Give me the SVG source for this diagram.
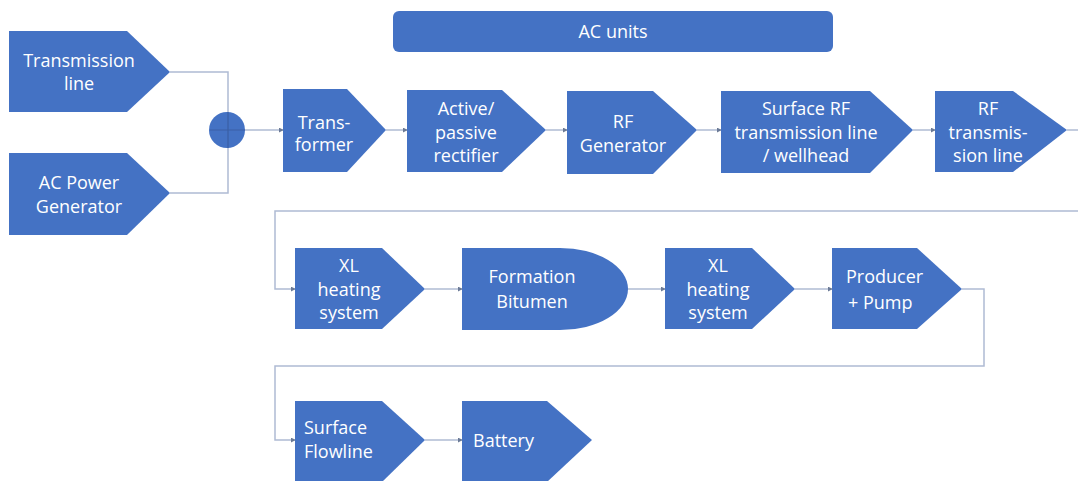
<svg xmlns="http://www.w3.org/2000/svg" width="1078" height="481" viewBox="0 0 1078 481">
<defs>
<style>
.n{fill:#4472C4;}
.t{fill:#fff;font-family:"Open Sans","Noto Sans",sans-serif;font-size:18px;text-anchor:middle;}
.l{text-anchor:start;}
.c{fill:none;stroke:#AFBBD3;stroke-width:1.5;}
</style>
<marker id="a" viewBox="0 0 6 6" refX="5" refY="3" markerWidth="5" markerHeight="5" orient="auto" markerUnits="userSpaceOnUse">
<path d="M0,0 L6,3 L0,6 z" fill="#6B7A96"/>
</marker>
</defs>
<rect width="1078" height="481" fill="#fff"/>
<g id="connectors">
<path class="c" d="M170,72 H228 V193 H170"/>
<path class="c" d="M210,130 H283" marker-end="url(#a)"/>
<path class="c" d="M386,130 H407" marker-end="url(#a)"/>
<path class="c" d="M546,130 H567" marker-end="url(#a)"/>
<path class="c" d="M697,130 H721" marker-end="url(#a)"/>
<path class="c" d="M913,130 H935" marker-end="url(#a)"/>
<path class="c" d="M1067,130 H1078"/>
<path class="c" d="M1078,211 H275 V289 H295" marker-end="url(#a)"/>
<path class="c" d="M425,289 H462" marker-end="url(#a)"/>
<path class="c" d="M628,289 H665" marker-end="url(#a)"/>
<path class="c" d="M795,289 H832" marker-end="url(#a)"/>
<path class="c" d="M962,289 H984 V366 H275 V440 H295" marker-end="url(#a)"/>
<path class="c" d="M425,440 H462" marker-end="url(#a)"/>
</g>
<g id="ac-units"><rect class="n" x="393" y="11" width="440" height="41" rx="6"/><text class="t" x="613" y="38">AC units</text></g>
<g id="transmission-line"><path class="n" d="M9,31 H127 L170,72 L127,112 H9 Z"/><text class="t" x="79" y="67">Transmission</text><text class="t" x="79" y="90">line</text></g>
<g id="ac-power-generator"><path class="n" d="M9,153 H127 L170,193 L127,235 H9 Z"/><text class="t" x="79" y="189">AC Power</text><text class="t" x="79" y="213">Generator</text></g>
<g id="junction"><circle class="n" cx="227" cy="130" r="18"/><path d="M228,112 V148 M210,130 H245" stroke="#3A5FA5" stroke-width="1.2" fill="none"/></g>
<g id="transformer"><path class="n" d="M283,89 H347 L386,130 L347,172 H283 Z"/><text class="t" x="324" y="129">Trans-</text><text class="t" x="324" y="151">former</text></g>
<g id="rectifier"><path class="n" d="M407,90 H502 L546,130 L502,172 H407 Z"/><text class="t" x="466" y="115">Active/</text><text class="t" x="466" y="139">passive</text><text class="t" x="466" y="162">rectifier</text></g>
<g id="rf-generator"><path class="n" d="M567,91 H653 L697,130 L653,174 H567 Z"/><text class="t" x="623" y="128">RF</text><text class="t" x="623" y="152">Generator</text></g>
<g id="surface-rf"><path class="n" d="M721,91 H870 L913,130 L870,173 H721 Z"/><text class="t" x="806" y="115">Surface RF</text><text class="t" x="806" y="139">transmission line</text><text class="t" x="806" y="162">/ wellhead</text></g>
<g id="rf-transmission-line"><path class="n" d="M935,91 H1013 L1067,130 L1013,172 H935 Z"/><text class="t" x="988" y="115">RF</text><text class="t" x="988" y="139">transmis-</text><text class="t" x="988" y="162">sion line</text></g>
<g id="xl-heating-1"><path class="n" d="M295,248 H382 L425,289 L382,329 H295 Z"/><text class="t" x="349" y="272">XL</text><text class="t" x="349" y="296">heating</text><text class="t" x="349" y="319">system</text></g>
<g id="formation-bitumen"><path class="n" d="M462,248 H560 A68,41 0 0 1 560,330 H462 Z"/><text class="t" x="532" y="283">Formation</text><text class="t" x="532" y="308">Bitumen</text></g>
<g id="xl-heating-2"><path class="n" d="M665,248 H752 L795,289 L752,329 H665 Z"/><text class="t" x="718" y="272">XL</text><text class="t" x="718" y="296">heating</text><text class="t" x="718" y="319">system</text></g>
<g id="producer-pump"><path class="n" d="M832,248 H917 L962,289 L917,329 H832 Z"/><text class="t l" x="846" y="283">Producer</text><text class="t l" x="848" y="309">+ Pump</text></g>
<g id="surface-flowline"><path class="n" d="M295,401 H382 L425,440 L382,482 H295 Z"/><text class="t l" x="304" y="434">Surface</text><text class="t l" x="304" y="458">Flowline</text></g>
<g id="battery"><path class="n" d="M462,401 H547 L592,440 L547,482 H462 Z"/><text class="t l" x="473" y="447">Battery</text></g>
</svg>
